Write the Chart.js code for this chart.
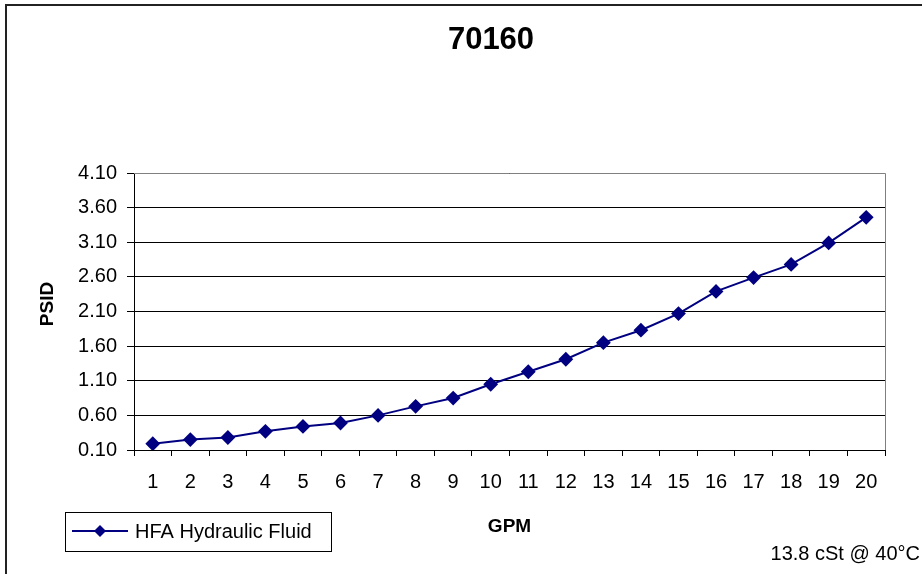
<!DOCTYPE html>
<html lang="en">

<head>
    <meta charset="UTF-8">
    <title>70160</title>
    <style>
        body { margin: 0; background: #fff; }
        canvas { display: block; }
    </style>
</head>

<body>
    <canvas id="myChart" width="922" height="574"></canvas>

    <script src="https://cdn.jsdelivr.net/npm/chart.js"></script>
    <script>
        // data
        const gpm = ['1', '2', '3', '4', '5', '6', '7', '8', '9', '10',
            '11', '12', '13', '14', '15', '16', '17', '18', '19', '20'];
        const psid = [0.19, 0.25, 0.28, 0.37, 0.44, 0.49, 0.60, 0.73, 0.85, 1.05,
            1.23, 1.41, 1.65, 1.83, 2.07, 2.39, 2.59, 2.78, 3.09, 3.46];
        const yTicks = [0.10, 0.60, 1.10, 1.60, 2.10, 2.60, 3.10, 3.60, 4.10];

        const chartTitle = '70160';
        const seriesName = 'HFA Hydraulic Fluid';
        const footNote = '13.8 cSt @ 40\u00B0C';
        const navy = '#000080';
        const font = '"Liberation Sans", Arial, sans-serif';

        // frame, title, axis titles, legend box and footnote
        const extras = {
            id: 'extras',
            afterDraw(chart) {
                const c = chart.ctx;
                const area = chart.chartArea;
                c.save();

                // plot area border (top and right in grey)
                c.strokeStyle = '#808080';
                c.lineWidth = 1;
                c.beginPath();
                c.moveTo(area.left, area.top + 0.5);
                c.lineTo(area.right + 0.5, area.top + 0.5);
                c.lineTo(area.right + 0.5, area.bottom);
                c.stroke();

                // outer frame
                c.strokeStyle = '#222';
                c.lineWidth = 2;
                c.beginPath();
                c.moveTo(6, 574);
                c.lineTo(6, 5);
                c.lineTo(922, 5);
                c.stroke();

                c.fillStyle = '#000';
                c.textAlign = 'center';
                c.textBaseline = 'middle';

                // title
                c.font = 'bold 31px ' + font;
                c.fillText(chartTitle, 491, 40);

                // axis titles
                c.font = 'bold 19px ' + font;
                c.fillText('GPM', (area.left + area.right) / 2, 527);
                c.save();
                c.translate(48, 304);
                c.rotate(-Math.PI / 2);
                c.fillText('PSID', 0, 0);
                c.restore();

                // legend
                c.strokeStyle = '#000';
                c.lineWidth = 1;
                c.strokeRect(65.5, 512.5, 266, 39);
                c.strokeStyle = navy;
                c.lineWidth = 2;
                c.beginPath();
                c.moveTo(72, 531);
                c.lineTo(128, 531);
                c.stroke();
                c.fillStyle = navy;
                c.beginPath();
                c.moveTo(100, 525);
                c.lineTo(106, 531);
                c.lineTo(100, 537);
                c.lineTo(94, 531);
                c.closePath();
                c.fill();
                c.fillStyle = '#000';
                c.font = '20px ' + font;
                c.textAlign = 'left';
                c.fillText(seriesName, 135, 532);

                // footnote
                c.textAlign = 'right';
                c.fillText(footNote, 920, 554);

                c.restore();
            }
        };

        new Chart(document.getElementById('myChart'), {
            type: 'line',
            data: {
                labels: gpm,
                datasets: [{
                    label: seriesName,
                    data: psid,
                    borderColor: navy,
                    backgroundColor: navy,
                    borderWidth: 2,
                    pointStyle: 'rectRot',
                    pointRadius: 6,
                    pointHoverRadius: 6,
                    tension: 0
                }]
            },
            options: {
                responsive: false,
                animation: false,
                devicePixelRatio: 1,
                layout: {
                    padding: { left: 64, right: 37, top: 173, bottom: 74 }
                },
                plugins: {
                    legend: { display: false },
                    tooltip: { enabled: false },
                    title: { display: false }
                },
                scales: {
                    x: {
                        offset: true,
                        grid: {
                            offset: true,
                            drawOnChartArea: false,
                            drawTicks: true,
                            tickLength: 6,
                            color: '#000'
                        },
                        border: { display: true, color: '#000' },
                        ticks: {
                            color: '#000',
                            font: { family: font, size: 20 },
                            padding: 14,
                            maxRotation: 0,
                            autoSkip: false
                        },
                        afterFit(scale) { scale.height = 50; }
                    },
                    y: {
                        min: 0.1,
                        max: 4.1,
                        afterBuildTicks(scale) {
                            scale.ticks = yTicks.map(v => ({ value: v }));
                        },
                        grid: {
                            color: '#000',
                            drawTicks: true,
                            tickLength: 7
                        },
                        border: { display: true, color: '#000' },
                        ticks: {
                            color: '#000',
                            font: { family: font, size: 20 },
                            padding: 10,
                            callback: v => Number(v).toFixed(2)
                        },
                        afterFit(scale) { scale.width = 70; }
                    }
                }
            },
            plugins: [extras]
        });
    </script>
</body>

</html>
